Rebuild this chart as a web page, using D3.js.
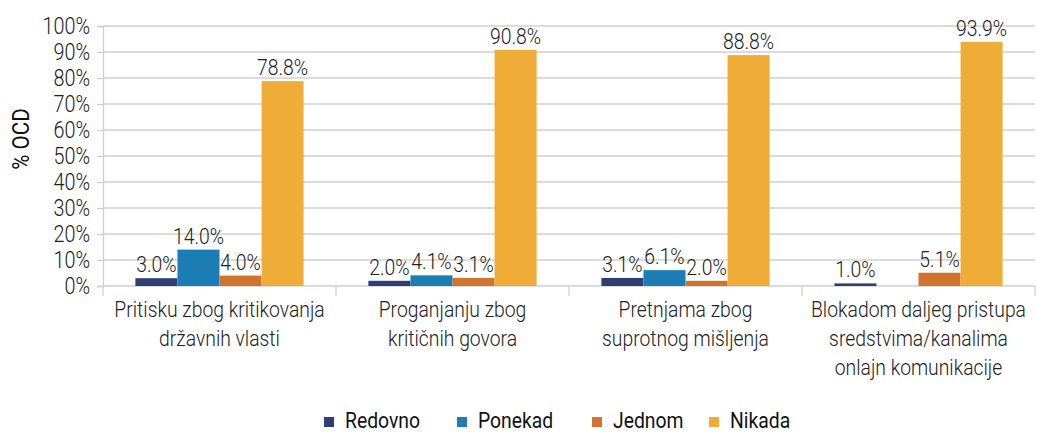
<!DOCTYPE html>
<html>
<head>
<meta charset="utf-8">
<script src="https://cdn.jsdelivr.net/npm/d3@7"></script>
<style>
  body { margin: 0; background: #fff; }
  text { font-family: "Roboto", sans-serif; fill: #222; font-weight: 300; }
</style>
</head>
<body>
<div id="chart"></div>
<script>
const categories = [
    ["Pritisku zbog kritikovanja", "državnih vlasti"],
    ["Proganjanju zbog", "kritičnih govora"],
    ["Pretnjama zbog", "suprotnog mišljenja"],
    ["Blokadom daljeg pristupa", "sredstvima/kanalima", "onlajn komunikacije"]
];
const seriesNames = ["Redovno", "Ponekad", "Jednom", "Nikada"];
const seriesColors = ["#2e3f73", "#1b7db4", "#d07430", "#efad38"];
const redovno = [3.0, 2.0, 3.1, 1.0];
const ponekad = [14.0, 4.1, 6.1, 0];
const jednom = [4.0, 3.1, 2.0, 5.1];
const nikada = [78.8, 90.8, 88.8, 93.9];
const yTicks = [0, 10, 20, 30, 40, 50, 60, 70, 80, 90, 100];

const values = [redovno, ponekad, jednom, nikada];

const W = 1037, H = 433;
const margin = { top: 26, right: 2, bottom: 147, left: 103 };
const width = W - margin.left - margin.right,
    height = H - margin.top - margin.bottom;
const FS = 22.5, SX = 0.86;

const svg = d3.select("#chart").append("svg")
    .attr("width", W).attr("height", H);
const g = svg.append("g").attr("transform", `translate(${margin.left},${margin.top})`);

const x0 = d3.scaleBand().domain(d3.range(categories.length)).range([0, width]).padding(0);
const x1 = d3.scaleBand().domain(seriesNames).range([0, x0.bandwidth()]).paddingOuter(0.77).paddingInner(0);
const y = d3.scaleLinear().domain([0, 100]).range([height, 0]);

// condensed text placed at (x, y)
const label = (parent, x, y, anchor) => parent.append("text")
    .attr("transform", `translate(${x},${y}) scale(${SX},1)`)
    .attr("text-anchor", anchor)
    .style("font-size", FS + "px");

// gridlines
g.selectAll(".grid").data(yTicks).enter().append("line")
    .attr("x1", 0).attr("x2", width)
    .attr("y1", d => y(d)).attr("y2", d => y(d))
    .attr("stroke", "#d0d0d0").attr("stroke-width", 1.3);

// y axis
const yAxis = g.append("g")
    .call(d3.axisLeft(y).tickValues(yTicks).tickFormat("").tickSize(6));
yAxis.select(".domain").attr("stroke", "#d0d0d0").attr("stroke-width", 1.3);
yAxis.selectAll(".tick line").attr("stroke", "#d0d0d0").attr("stroke-width", 1.3);
yTicks.forEach(t => {
    label(g, -13, y(t) + 8, "end").style("font-size", "23px").text(t + "%");
});

// category separators
g.selectAll(".sep").data(d3.range(categories.length + 1)).enter().append("line")
    .attr("x1", d => d * x0.step()).attr("x2", d => d * x0.step())
    .attr("y1", height).attr("y2", height + 10)
    .attr("stroke", "#d0d0d0").attr("stroke-width", 1.3);

// bars
seriesNames.forEach((s, si) => {
    const grp = g.append("g");
    grp.selectAll("rect").data(values[si]).enter().append("rect")
        .attr("x", (d, i) => x0(i) + x1(s))
        .attr("y", d => y(d))
        .attr("width", x1.bandwidth())
        .attr("height", d => height - y(d))
        .attr("fill", seriesColors[si]);
    values[si].forEach((d, i) => {
        if (d <= 0) return;
        label(grp, x0(i) + x1(s) + x1.bandwidth() / 2, y(d) - 6, "middle")
            .text(d.toFixed(1) + "%");
    });
});

// category labels
categories.forEach((lines, i) => {
    const t = label(g, x0(i) + x0.bandwidth() / 2, height + 31, "middle");
    lines.forEach((l, li) => {
        t.append("tspan").attr("x", 0).attr("dy", li === 0 ? 0 : 29).text(l);
    });
});

// y axis title
svg.append("text")
    .attr("transform", `translate(29, ${margin.top + height / 2 - 17}) rotate(-90) scale(${SX},1)`)
    .attr("text-anchor", "middle")
    .style("font-size", "24px").style("font-weight", 400).style("fill", "#111")
    .text("% OCD");

// legend
const legendX = [324, 457, 592, 709];
seriesNames.forEach((s, i) => {
    svg.append("rect").attr("x", legendX[i]).attr("y", 417).attr("width", 10).attr("height", 10)
        .attr("fill", seriesColors[i]);
    svg.append("text")
        .attr("transform", `translate(${legendX[i] + 21},427.5) scale(${SX},1)`)
        .style("font-size", "22.5px").style("font-weight", 400).style("fill", "#111")
        .text(s);
});
</script>
</body>
</html>
